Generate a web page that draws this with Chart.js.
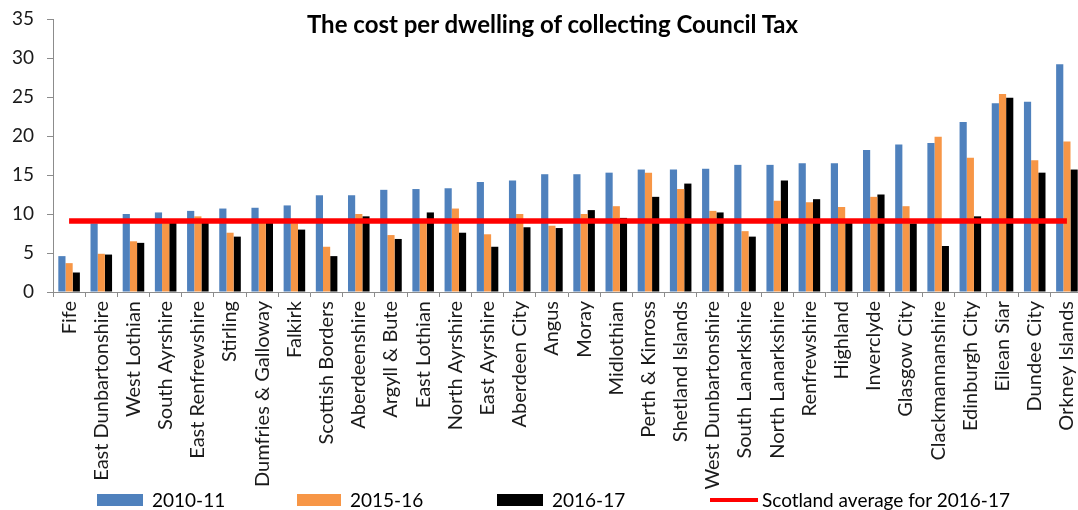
<!DOCTYPE html>
<html>
<head>
<meta charset="utf-8">
<script src="https://cdn.jsdelivr.net/npm/chart.js@4/dist/chart.umd.min.js"></script>
<style>
  html, body { margin: 0; padding: 0; background: #fff; overflow: hidden; }
  #wrap { position: relative; width: 1105px; height: 510px; }
  .overlay { position: absolute; top: 0; left: 0; width: 1105px; height: 510px; pointer-events: none;
             font-family: Lato, "Open Sans", sans-serif; font-size: 19px; color: #000; }
  .title { position: absolute; top: 10px; left: 0; width: 1105px; text-align: center;
           font-size: 24px; font-weight: bold; line-height: 28px; white-space: nowrap; }
  .swatch { position: absolute; top: 494px; height: 12px; }
  .lline { position: absolute; top: 498px; height: 4px; background: #ff0000; }
  .ltext { position: absolute; top: 488px; line-height: 24px; white-space: nowrap; }
</style>
</head>
<body>
<div id="wrap">
  <canvas id="chart"></canvas>
  <div class="overlay">
    <div class="title">The cost per dwelling of collecting Council Tax</div>
    <div class="swatch" style="left:97px;width:46px;background:#4f81bd"></div>
    <div class="ltext" style="left:152px">2010-11</div>
    <div class="swatch" style="left:297px;width:44px;background:#f79646"></div>
    <div class="ltext" style="left:350px">2015-16</div>
    <div class="swatch" style="left:497px;width:46px;background:#000000"></div>
    <div class="ltext" style="left:552px">2016-17</div>
    <div class="lline" style="left:710px;width:48px"></div>
    <div class="ltext" style="left:762px">Scotland average for 2016-17</div>
  </div>
</div>
<script>
// Council areas, ordered by 2010-11 cost
const councils = [
  "Fife", "East Dunbartonshire", "West Lothian", "South Ayrshire", "East Renfrewshire",
  "Stirling", "Dumfries & Galloway", "Falkirk", "Scottish Borders", "Aberdeenshire",
  "Argyll & Bute", "East Lothian", "North Ayrshire", "East Ayrshire", "Aberdeen City",
  "Angus", "Moray", "Midlothian", "Perth & Kinross", "Shetland Islands",
  "West Dunbartonshire", "South Lanarkshire", "North Lanarkshire", "Renfrewshire", "Highland",
  "Inverclyde", "Glasgow City", "Clackmannanshire", "Edinburgh City", "Eilean Siar",
  "Dundee City", "Orkney Islands"
];

// Cost per dwelling (GBP)
const cost2010_11 = [
  4.6, 8.8, 10.0, 10.2, 10.4, 10.7, 10.8, 11.1, 12.4, 12.4,
  13.1, 13.2, 13.3, 14.1, 14.3, 15.1, 15.1, 15.3, 15.7, 15.7,
  15.8, 16.3, 16.3, 16.5, 16.5, 18.2, 18.9, 19.1, 21.8, 24.2,
  24.4, 29.2
];
const cost2015_16 = [
  3.7, 4.9, 6.5, 9.0, 9.7, 7.6, 9.1, 8.8, 5.8, 10.0,
  7.3, 9.0, 10.7, 7.4, 10.0, 8.5, 10.0, 11.0, 15.3, 13.2,
  10.4, 7.8, 11.7, 11.5, 10.9, 12.2, 11.0, 19.9, 17.2, 25.4,
  16.9, 19.3
];
const cost2016_17 = [
  2.5, 4.8, 6.3, 8.9, 9.0, 7.1, 8.9, 8.0, 4.6, 9.7,
  6.8, 10.2, 7.6, 5.8, 8.3, 8.2, 10.5, 9.5, 12.2, 13.9,
  10.2, 7.1, 14.3, 11.9, 8.9, 12.5, 8.8, 5.9, 9.7, 24.9,
  15.3, 15.7
];
// Scotland average for 2016-17, one value per council
const scotlandAverage = [
  9.1, 9.1, 9.1, 9.1, 9.1, 9.1, 9.1, 9.1, 9.1, 9.1,
  9.1, 9.1, 9.1, 9.1, 9.1, 9.1, 9.1, 9.1, 9.1, 9.1,
  9.1, 9.1, 9.1, 9.1, 9.1, 9.1, 9.1, 9.1, 9.1, 9.1,
  9.1, 9.1
];

const yTicks = [0, 5, 10, 15, 20, 25, 30, 35];

Chart.defaults.font.family = "Lato, 'Open Sans', sans-serif";
Chart.defaults.color = "#1a1a1a";

const axisGrey = "#8c8c8c";

new Chart(document.getElementById("chart"), {
  type: "bar",
  data: {
    labels: councils,
    datasets: [
      { label: "Scotland average for 2016-17", type: "line", data: scotlandAverage,
        borderColor: "#ff0000", backgroundColor: "#ff0000", borderWidth: 5.5,
        pointRadius: 0, tension: 0, order: 0 },
      { label: "2010-11", data: cost2010_11, backgroundColor: "#4f81bd", order: 1 },
      { label: "2015-16", data: cost2015_16, backgroundColor: "#f79646", order: 1 },
      { label: "2016-17", data: cost2016_17, backgroundColor: "#000000", order: 1 }
    ]
  },
  options: {
    responsive: true,
    maintainAspectRatio: false,
    animation: false,
    devicePixelRatio: 1,
    layout: { padding: { left: 0, right: 22, top: 19, bottom: 0 } },
    datasets: { bar: { categoryPercentage: 0.67, barPercentage: 1.0 } },
    plugins: {
      legend: { display: false },
      tooltip: { enabled: false },
      title: { display: false }
    },
    scales: {
      x: {
        offset: true,
        grid: { display: true, offset: true, drawOnChartArea: false, drawTicks: true,
                tickLength: 5, color: axisGrey },
        border: { display: true, color: axisGrey, width: 1 },
        ticks: { autoSkip: false, minRotation: 90, maxRotation: 90, padding: 4,
                 font: { size: 20 }, color: "#1a1a1a" },
        afterFit: (scale) => { scale.height = 218; }
      },
      y: {
        min: 0, max: 35,
        afterBuildTicks: (scale) => { scale.ticks = yTicks.map(v => ({ value: v })); },
        grid: { display: true, drawOnChartArea: false, drawTicks: true,
                tickLength: 6, color: axisGrey },
        border: { display: true, color: axisGrey, width: 1 },
        ticks: { padding: 13, font: { size: 19 }, color: "#1a1a1a" },
        afterFit: (scale) => {
          scale.width = 53;
          // keep the label overhang from pushing the plot area down
          scale.paddingTop = 12;
          scale.paddingBottom = 12;
        }
      }
    }
  }
});
</script>
</body>
</html>
